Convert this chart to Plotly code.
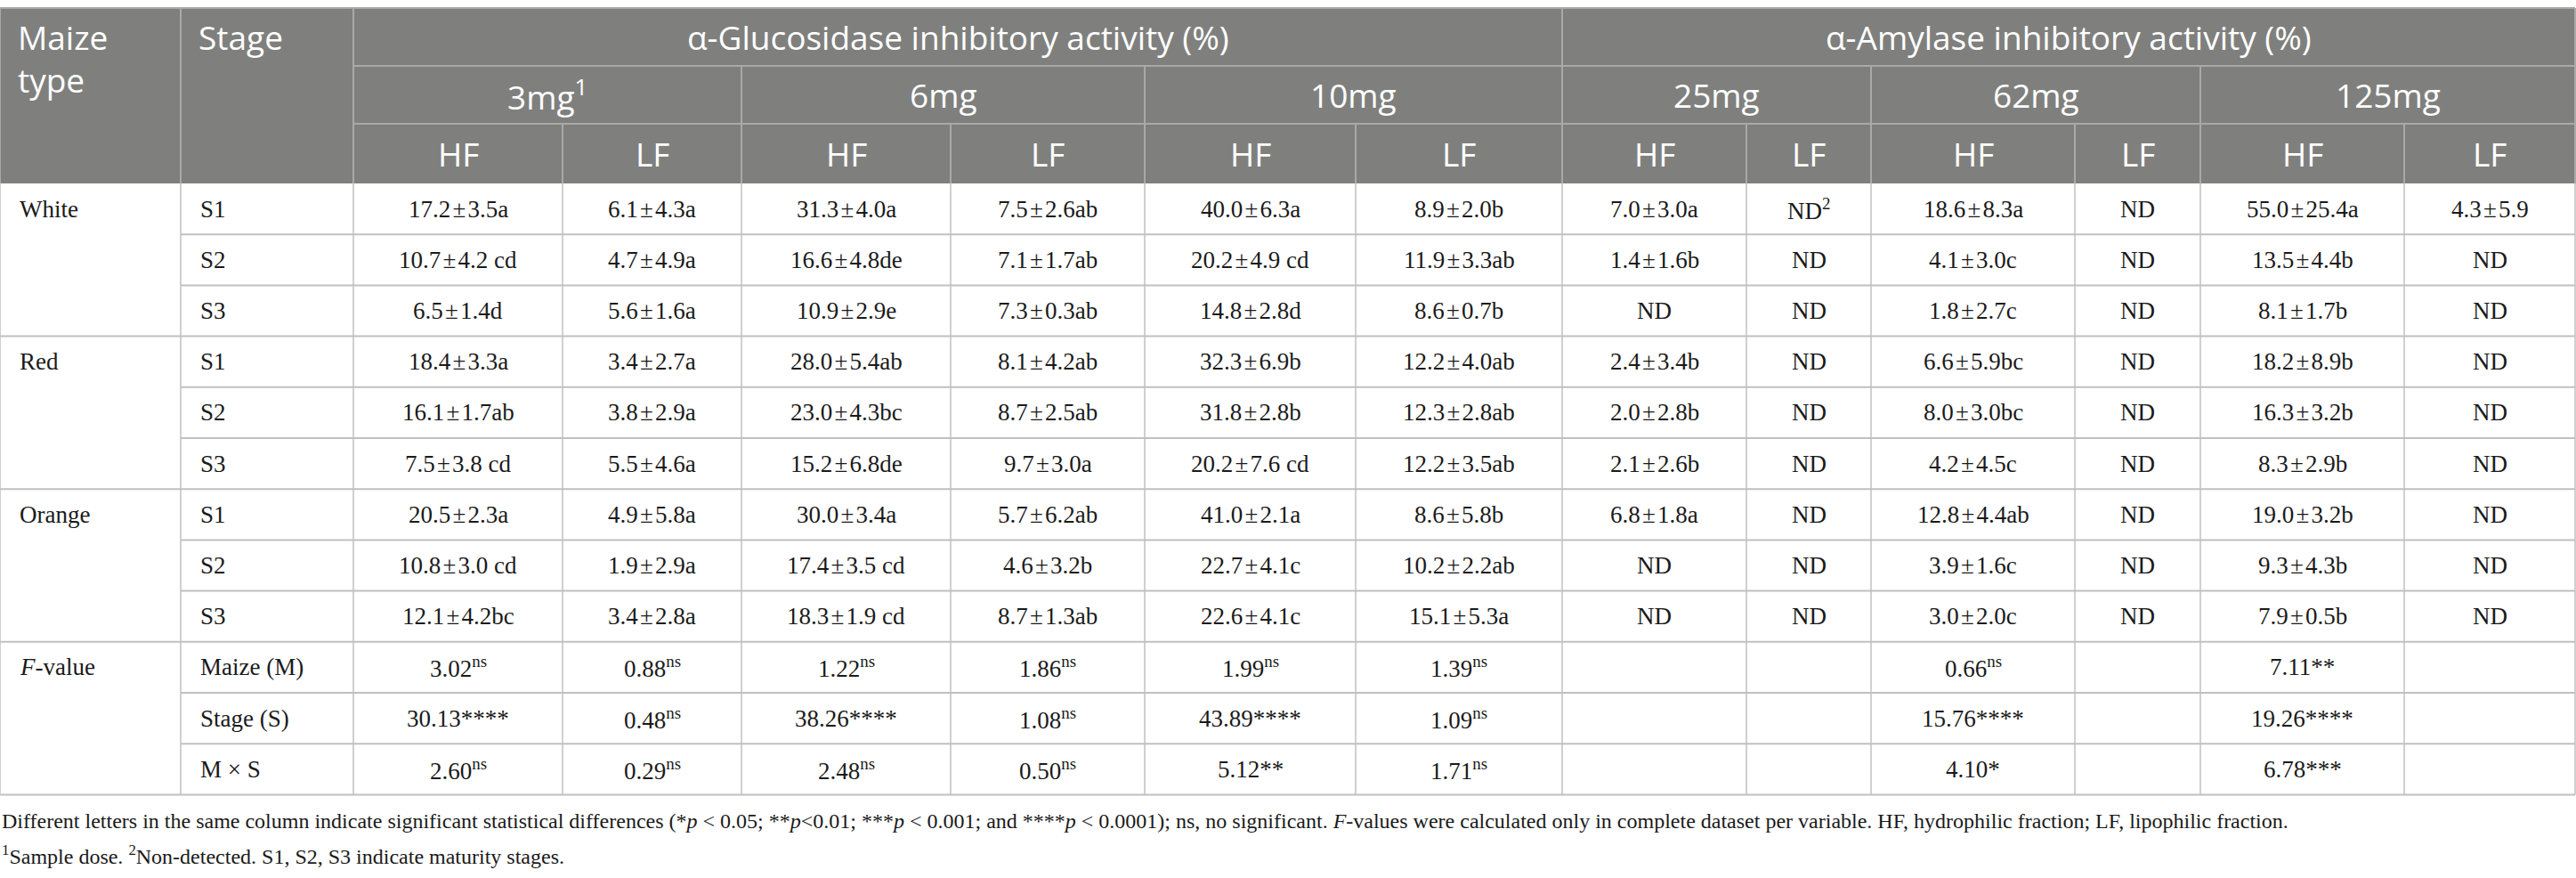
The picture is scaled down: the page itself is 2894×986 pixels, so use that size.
import plotly.graph_objects as go

maize_types = ["White", "Red", "Orange"]
stages = ["S1", "S2", "S3", "S1", "S2", "S3", "S1", "S2", "S3"]

gluc_3_hf = ["17.2 ± 3.5a", "10.7 ± 4.2 cd", "6.5 ± 1.4d", "18.4 ± 3.3a", "16.1 ± 1.7ab",
             "7.5 ± 3.8 cd", "20.5 ± 2.3a", "10.8 ± 3.0 cd", "12.1 ± 4.2bc"]
gluc_3_lf = ["6.1 ± 4.3a", "4.7 ± 4.9a", "5.6 ± 1.6a", "3.4 ± 2.7a", "3.8 ± 2.9a",
             "5.5 ± 4.6a", "4.9 ± 5.8a", "1.9 ± 2.9a", "3.4 ± 2.8a"]
gluc_6_hf = ["31.3 ± 4.0a", "16.6 ± 4.8de", "10.9 ± 2.9e", "28.0 ± 5.4ab", "23.0 ± 4.3bc",
             "15.2 ± 6.8de", "30.0 ± 3.4a", "17.4 ± 3.5 cd", "18.3 ± 1.9 cd"]
gluc_6_lf = ["7.5 ± 2.6ab", "7.1 ± 1.7ab", "7.3 ± 0.3ab", "8.1 ± 4.2ab", "8.7 ± 2.5ab",
             "9.7 ± 3.0a", "5.7 ± 6.2ab", "4.6 ± 3.2b", "8.7 ± 1.3ab"]
gluc_10_hf = ["40.0 ± 6.3a", "20.2 ± 4.9 cd", "14.8 ± 2.8d", "32.3 ± 6.9b", "31.8 ± 2.8b",
              "20.2 ± 7.6 cd", "41.0 ± 2.1a", "22.7 ± 4.1c", "22.6 ± 4.1c"]
gluc_10_lf = ["8.9 ± 2.0b", "11.9 ± 3.3ab", "8.6 ± 0.7b", "12.2 ± 4.0ab", "12.3 ± 2.8ab",
              "12.2 ± 3.5ab", "8.6 ± 5.8b", "10.2 ± 2.2ab", "15.1 ± 5.3a"]
amyl_25_hf = ["7.0 ± 3.0a", "1.4 ± 1.6b", "ND", "2.4 ± 3.4b", "2.0 ± 2.8b",
              "2.1 ± 2.6b", "6.8 ± 1.8a", "ND", "ND"]
amyl_25_lf = ["ND<sup>2</sup>", "ND", "ND", "ND", "ND", "ND", "ND", "ND", "ND"]
amyl_62_hf = ["18.6 ± 8.3a", "4.1 ± 3.0c", "1.8 ± 2.7c", "6.6 ± 5.9bc", "8.0 ± 3.0bc",
              "4.2 ± 4.5c", "12.8 ± 4.4ab", "3.9 ± 1.6c", "3.0 ± 2.0c"]
amyl_62_lf = ["ND", "ND", "ND", "ND", "ND", "ND", "ND", "ND", "ND"]
amyl_125_hf = ["55.0 ± 25.4a", "13.5 ± 4.4b", "8.1 ± 1.7b", "18.2 ± 8.9b", "16.3 ± 3.2b",
               "8.3 ± 2.9b", "19.0 ± 3.2b", "9.3 ± 4.3b", "7.9 ± 0.5b"]
amyl_125_lf = ["4.3 ± 5.9", "ND", "ND", "ND", "ND", "ND", "ND", "ND", "ND"]

f_sources = ["Maize (M)", "Stage (S)", "M × S"]
f_maize = ["3.02<sup>ns</sup>", "0.88<sup>ns</sup>", "1.22<sup>ns</sup>", "1.86<sup>ns</sup>",
           "1.99<sup>ns</sup>", "1.39<sup>ns</sup>", "", "", "0.66<sup>ns</sup>", "", "7.11**", ""]
f_stage = ["30.13****", "0.48<sup>ns</sup>", "38.26****", "1.08<sup>ns</sup>",
           "43.89****", "1.09<sup>ns</sup>", "", "", "15.76****", "", "19.26****", ""]
f_mxs = ["2.60<sup>ns</sup>", "0.29<sup>ns</sup>", "2.48<sup>ns</sup>", "0.50<sup>ns</sup>",
         "5.12**", "1.71<sup>ns</sup>", "", "", "4.10*", "", "6.78***", ""]

assays = ["α-Glucosidase inhibitory activity (%)", "α-Amylase inhibitory activity (%)"]
doses = ["3mg<sup>1</sup>", "6mg", "10mg", "25mg", "62mg", "125mg"]
fractions = ["HF", "LF"] * 6

footnote_1 = ("Different letters in the same column indicate significant statistical differences "
              "(*<i>p</i> < 0.05; **<i>p</i><0.01; ***<i>p</i> < 0.001; and ****<i>p</i> < 0.0001); "
              "ns, no significant. <i>F</i>-values were calculated only in complete dataset per variable. "
              "HF, hydrophilic fraction; LF, lipophilic fraction.")
footnote_2 = "<sup>1</sup>Sample dose. <sup>2</sup>Non-detected. S1, S2, S3 indicate maturity stages."

value_cols = [gluc_3_hf, gluc_3_lf, gluc_6_hf, gluc_6_lf, gluc_10_hf, gluc_10_lf,
              amyl_25_hf, amyl_25_lf, amyl_62_hf, amyl_62_lf, amyl_125_hf, amyl_125_lf]

# ---- layout (pixels) ----
W, H = 2894, 986
col_w = [203, 194, 235, 201, 235, 218, 237, 232, 207, 140, 229, 141, 229, 192]
xs = [0]
for w in col_w:
    xs.append(xs[-1] + w)
top = 9
head_h = [65, 65, 67]
row_h = 57.2
head_y = [top]
for h in head_h:
    head_y.append(head_y[-1] + h)
body_top = head_y[-1]
n_rows = len(stages) + len(f_sources)
row_y = [body_top + i * row_h for i in range(n_rows + 1)]

HEAD_BG = "#7f807e"
HEAD_LINE = "#a9aaa8"
BODY_LINE = "#c0c0c0"
INK = "#1a1a1a"
SANS = "Open Sans"
SERIF = "Liberation Serif"
HS = 37   # header font size
FS = 27   # body font size
NS = 24   # footnote font size

fig = go.Figure()
shapes = []
ann = []


def line(x0, y0, x1, y1, color, width):
    shapes.append(dict(type="line", xref="x", yref="y", x0=x0, y0=y0, x1=x1, y1=y1,
                       line=dict(color=color, width=width), layer="above"))


def text(x, y, s, size, color, font, xanchor="center"):
    # tight spacing around the plus-minus sign, as in the printed table
    s = s.replace(" ± ", "\u200a±\u200a")
    ann.append(dict(x=x, y=y, xref="x", yref="y", text=s, showarrow=False,
                    xanchor=xanchor, yanchor="middle", align="left",
                    font=dict(size=size, color=color, family=font)))


# header background
shapes.append(dict(type="rect", xref="x", yref="y", x0=0, x1=xs[-1], y0=top, y1=body_top,
                   fillcolor=HEAD_BG, line=dict(width=0), layer="below"))
line(0, top, xs[-1], top, HEAD_LINE, 2)

# header lines
line(xs[2], head_y[1], xs[-1], head_y[1], HEAD_LINE, 2)
line(xs[2], head_y[2], xs[-1], head_y[2], HEAD_LINE, 2)
for i in [0, 1, 2, 8, 14]:
    line(xs[i], top, xs[i], body_top, HEAD_LINE, 2)
for i in [4, 6, 10, 12]:
    line(xs[i], head_y[1], xs[i], body_top, HEAD_LINE, 2)
for i in [3, 5, 7, 9, 11, 13]:
    line(xs[i], head_y[2], xs[i], body_top, HEAD_LINE, 2)

# header text
text(xs[0] + 18, head_y[0] + 56, "Maize<br>type", HS, "white", SANS, "left")
text(xs[1] + 18, head_y[0] + 32, "Stage", HS, "white", SANS, "left")
text((xs[2] + xs[8]) / 2, (head_y[0] + head_y[1]) / 2, assays[0], HS, "white", SANS)
text((xs[8] + xs[14]) / 2, (head_y[0] + head_y[1]) / 2, assays[1], HS, "white", SANS)
for k, d in enumerate(doses):
    text((xs[2 + 2 * k] + xs[4 + 2 * k]) / 2, (head_y[1] + head_y[2]) / 2, d, HS, "white", SANS)
for k, f in enumerate(fractions):
    text((xs[2 + k] + xs[3 + k]) / 2, (head_y[2] + head_y[3]) / 2, f, HS, "white", SANS)

# body lines
for r in range(1, n_rows + 1):
    x_start = 0 if r % 3 == 0 else xs[1]
    line(x_start, row_y[r], xs[-1], row_y[r], BODY_LINE, 2)
for i in range(len(xs)):
    line(xs[i], body_top, xs[i], row_y[-1], BODY_LINE, 1.5)

# body text
for g, m in enumerate(maize_types):
    text(xs[0] + 20, (row_y[3 * g] + row_y[3 * g + 1]) / 2, m, FS, INK, SERIF, "left")
text(xs[0] + 20, (row_y[9] + row_y[10]) / 2, "<i>F</i>-value", FS, INK, SERIF, "left")
for r, s in enumerate(stages):
    text(xs[1] + 20, (row_y[r] + row_y[r + 1]) / 2, s, FS, INK, SERIF, "left")
    for c, col in enumerate(value_cols):
        text((xs[2 + c] + xs[3 + c]) / 2, (row_y[r] + row_y[r + 1]) / 2, col[r], FS, INK, SERIF)
for j, (src, vals) in enumerate(zip(f_sources, [f_maize, f_stage, f_mxs])):
    r = 9 + j
    text(xs[1] + 20, (row_y[r] + row_y[r + 1]) / 2, src, FS, INK, SERIF, "left")
    for c, v in enumerate(vals):
        if v:
            text((xs[2 + c] + xs[3 + c]) / 2, (row_y[r] + row_y[r + 1]) / 2, v, FS, INK, SERIF)

# footnotes
text(0, 922, footnote_1, NS, INK, SERIF, "left")
text(0, 960, footnote_2, NS, INK, SERIF, "left")

fig.update_layout(
    width=W, height=H,
    margin=dict(l=0, r=0, t=0, b=0),
    paper_bgcolor="white", plot_bgcolor="white",
    xaxis=dict(range=[0, W], visible=False, fixedrange=True),
    yaxis=dict(range=[H, 0], visible=False, fixedrange=True),
    shapes=shapes, annotations=ann, showlegend=False,
)

fig.write_html("out.html", config={"displayModeBar": False},
               post_script="document.body.style.margin='0';")
